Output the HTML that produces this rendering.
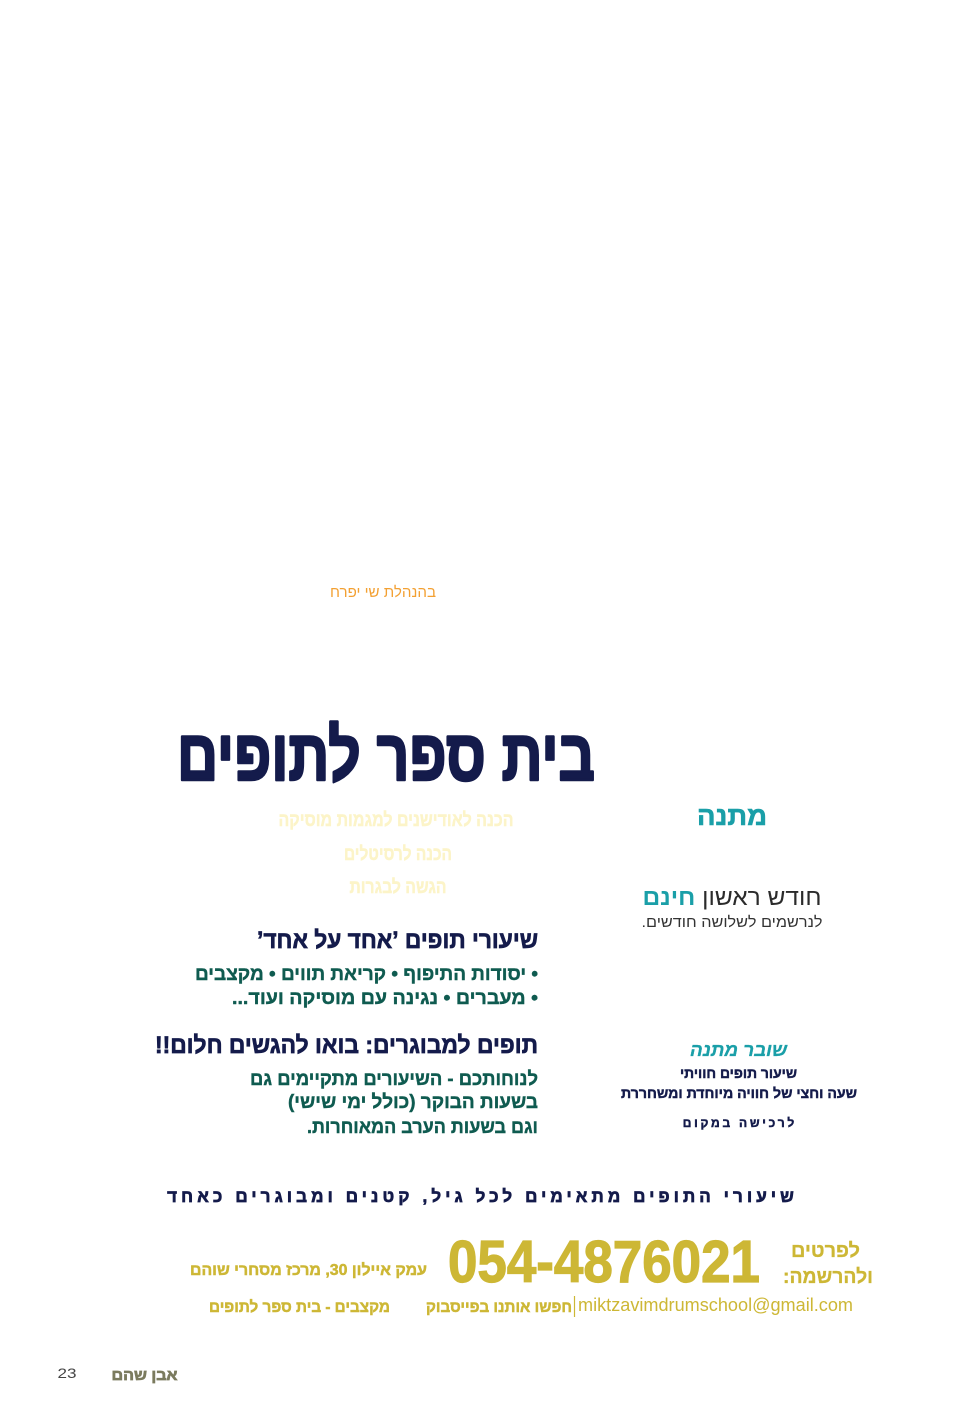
<!DOCTYPE html>
<html>
<head>
<meta charset="utf-8">
<style>
  html,body{margin:0;padding:0;background:#fff;}
  body{width:966px;height:1402px;overflow:hidden;}
  svg{display:block;}
  .he{font-family:"Liberation Sans","DejaVu Sans",sans-serif;direction:rtl;unicode-bidi:embed;}
  .b{font-weight:bold;}
</style>
</head>
<body>
<svg width="966" height="1402" viewBox="0 0 966 1402" xmlns="http://www.w3.org/2000/svg">
  <rect x="0" y="0" width="966" height="1402" fill="#ffffff"/>

  <!-- management line -->
  <text class="he" x="383" y="597" text-anchor="middle" font-size="15" fill="#f3a032" textLength="106" lengthAdjust="spacingAndGlyphs">&#x200F;בהנהלת שי יפרח&#x200F;</text>

  <!-- Title -->
  <text class="he b" x="386" y="780" text-anchor="middle" font-size="72" fill="#141b4b" stroke="#141b4b" stroke-width="2.5" stroke-linejoin="round" textLength="418" lengthAdjust="spacingAndGlyphs">&#x200F;בית ספר לתופים&#x200F;</text>

  <!-- Pale yellow lines -->
  <text class="he b" x="396" y="826" text-anchor="middle" font-size="19" fill="#fcf4c8" stroke="#fcf4c8" stroke-width="0.5" textLength="235" lengthAdjust="spacingAndGlyphs">&#x200F;הכנה לאודישנים למגמות מוסיקה&#x200F;</text>
  <text class="he b" x="398" y="860" text-anchor="middle" font-size="19" fill="#fcf4c8" stroke="#fcf4c8" stroke-width="0.5" textLength="108" lengthAdjust="spacingAndGlyphs">&#x200F;הכנה לרסיטלים&#x200F;</text>
  <text class="he b" x="398" y="893" text-anchor="middle" font-size="19" fill="#fcf4c8" stroke="#fcf4c8" stroke-width="0.5" textLength="97" lengthAdjust="spacingAndGlyphs">&#x200F;הגשה לבגרות&#x200F;</text>

  <!-- מתנה -->
  <text class="he b" x="732" y="825" text-anchor="middle" font-size="26" fill="#1a9fa8" stroke="#1a9fa8" stroke-width="0.6" textLength="70" lengthAdjust="spacingAndGlyphs">&#x200F;מתנה&#x200F;</text>

  <!-- first month free -->
  <text class="he" x="732" y="905" text-anchor="middle" font-size="23" fill="#2b2b2b" textLength="179" lengthAdjust="spacingAndGlyphs">&#x200F;חודש ראשון <tspan font-weight="bold" fill="#1a9fa8">חינם</tspan>&#x200F;</text>
  <text class="he" x="732" y="927" text-anchor="middle" font-size="15" fill="#333333" textLength="181" lengthAdjust="spacingAndGlyphs">&#x200F;לנרשמים לשלושה חודשים.&#x200F;</text>

  <!-- one on one -->
  <text class="he b" x="397.5" y="948" text-anchor="middle" font-size="24" fill="#141b4b" stroke="#141b4b" stroke-width="0.7" textLength="281" lengthAdjust="spacingAndGlyphs">&#x200F;שיעורי תופים ’אחד על אחד’&#x200F;</text>
  <text class="he b" x="366.5" y="980" text-anchor="middle" font-size="19" fill="#0f5b50" stroke="#0f5b50" stroke-width="0.4" textLength="343" lengthAdjust="spacingAndGlyphs">&#x200F;• יסודות התיפוף • קריאת תווים • מקצבים&#x200F;</text>
  <text class="he b" x="385" y="1004" text-anchor="middle" font-size="19" fill="#0f5b50" stroke="#0f5b50" stroke-width="0.4" textLength="306" lengthAdjust="spacingAndGlyphs">&#x200F;• מעברים • נגינה עם מוסיקה ועוד...&#x200F;</text>

  <!-- adults -->
  <text class="he b" x="346.5" y="1053" text-anchor="middle" font-size="24" fill="#141b4b" stroke="#141b4b" stroke-width="0.7" textLength="383" lengthAdjust="spacingAndGlyphs">&#x200F;תופים למבוגרים: בואו להגשים חלום!!&#x200F;</text>
  <text class="he b" x="394" y="1085" text-anchor="middle" font-size="19" fill="#0f5b50" stroke="#0f5b50" stroke-width="0.4" textLength="288" lengthAdjust="spacingAndGlyphs">&#x200F;לנוחותכם - השיעורים מתקיימים גם&#x200F;</text>
  <text class="he b" x="413" y="1108" text-anchor="middle" font-size="19" fill="#0f5b50" stroke="#0f5b50" stroke-width="0.4" textLength="250" lengthAdjust="spacingAndGlyphs">&#x200F;בשעות הבוקר (כולל ימי שישי)&#x200F;</text>
  <text class="he b" x="422.5" y="1133" text-anchor="middle" font-size="19" fill="#0f5b50" stroke="#0f5b50" stroke-width="0.4" textLength="231" lengthAdjust="spacingAndGlyphs">&#x200F;וגם בשעות הערב המאוחרות.&#x200F;</text>

  <!-- voucher -->
  <text class="he b" x="738.5" y="1056" text-anchor="middle" font-size="18" font-style="italic" fill="#1a9fa8" stroke="#1a9fa8" stroke-width="0.3" textLength="97" lengthAdjust="spacingAndGlyphs">&#x200F;שובר מתנה&#x200F;</text>
  <text class="he b" x="738.5" y="1078" text-anchor="middle" font-size="14" fill="#141b4b" stroke="#141b4b" stroke-width="0.45" textLength="117" lengthAdjust="spacingAndGlyphs">&#x200F;שיעור תופים חוויתי&#x200F;</text>
  <text class="he b" x="739" y="1098" text-anchor="middle" font-size="14" fill="#141b4b" stroke="#141b4b" stroke-width="0.45" textLength="236" lengthAdjust="spacingAndGlyphs">&#x200F;שעה וחצי של חוויה  מיוחדת ומשחררת&#x200F;</text>
  <text class="he b" x="738.5" y="1127" text-anchor="middle" font-size="12" fill="#141b4b" stroke="#141b4b" stroke-width="0.5" textLength="117" lengthAdjust="spacing">&#x200F;לרכישה במקום&#x200F;</text>

  <!-- tagline -->
  <text class="he b" x="480.5" y="1202" text-anchor="middle" font-size="17" fill="#141b4b" stroke="#141b4b" stroke-width="0.7" textLength="635" lengthAdjust="spacing">&#x200F;שיעורי התופים מתאימים לכל גיל, קטנים ומבוגרים כאחד&#x200F;</text>

  <!-- phone -->
  <text x="604" y="1282" text-anchor="middle" font-family="'Liberation Sans Narrow','Liberation Sans',sans-serif" font-weight="bold" font-size="59" fill="#cdb735" stroke="#cdb735" stroke-width="1.2" textLength="312" lengthAdjust="spacingAndGlyphs">054-4876021</text>
  <text class="he b" x="825.5" y="1257" text-anchor="middle" font-size="20" fill="#cdb735" stroke="#cdb735" stroke-width="0.3" textLength="69" lengthAdjust="spacingAndGlyphs">&#x200F;לפרטים&#x200F;</text>
  <text class="he b" x="828" y="1283" text-anchor="middle" font-size="20" fill="#cdb735" stroke="#cdb735" stroke-width="0.3" textLength="90" lengthAdjust="spacingAndGlyphs">&#x200F;ולהרשמה:&#x200F;</text>
  <text class="he b" x="308.5" y="1275" text-anchor="middle" font-size="16" fill="#cdb735" stroke="#cdb735" stroke-width="0.5" textLength="237" lengthAdjust="spacingAndGlyphs">&#x200F;עמק איילון 30, מרכז מסחרי שוהם&#x200F;</text>

  <!-- facebook / email row -->
  <text class="he b" x="299.5" y="1312" text-anchor="middle" font-size="16" fill="#cdb735" stroke="#cdb735" stroke-width="0.5" textLength="181" lengthAdjust="spacingAndGlyphs">&#x200F;מקצבים - בית ספר לתופים&#x200F;</text>
  <text class="he b" x="499" y="1312" text-anchor="middle" font-size="16" fill="#cdb735" stroke="#cdb735" stroke-width="0.5" textLength="146" lengthAdjust="spacingAndGlyphs">&#x200F;חפשו אותנו בפייסבוק&#x200F;</text>
  <line x1="574.5" y1="1296" x2="574.5" y2="1317" stroke="#cdb735" stroke-width="1.2"/>
  <text x="715.5" y="1311" text-anchor="middle" font-family="'Liberation Sans',sans-serif" font-size="18" fill="#cdb735" textLength="275" lengthAdjust="spacingAndGlyphs">miktzavimdrumschool@gmail.com</text>

  <!-- footer -->
  <text x="67" y="1378" text-anchor="middle" font-family="'Liberation Sans',sans-serif" font-size="14" fill="#444444" textLength="19" lengthAdjust="spacingAndGlyphs">23</text>
  <text class="he b" x="144.5" y="1380" text-anchor="middle" font-size="15" fill="#7b7b5e" stroke="#7b7b5e" stroke-width="0.7" textLength="66" lengthAdjust="spacingAndGlyphs">&#x200F;אבן שהם&#x200F;</text>
</svg>
</body>
</html>
